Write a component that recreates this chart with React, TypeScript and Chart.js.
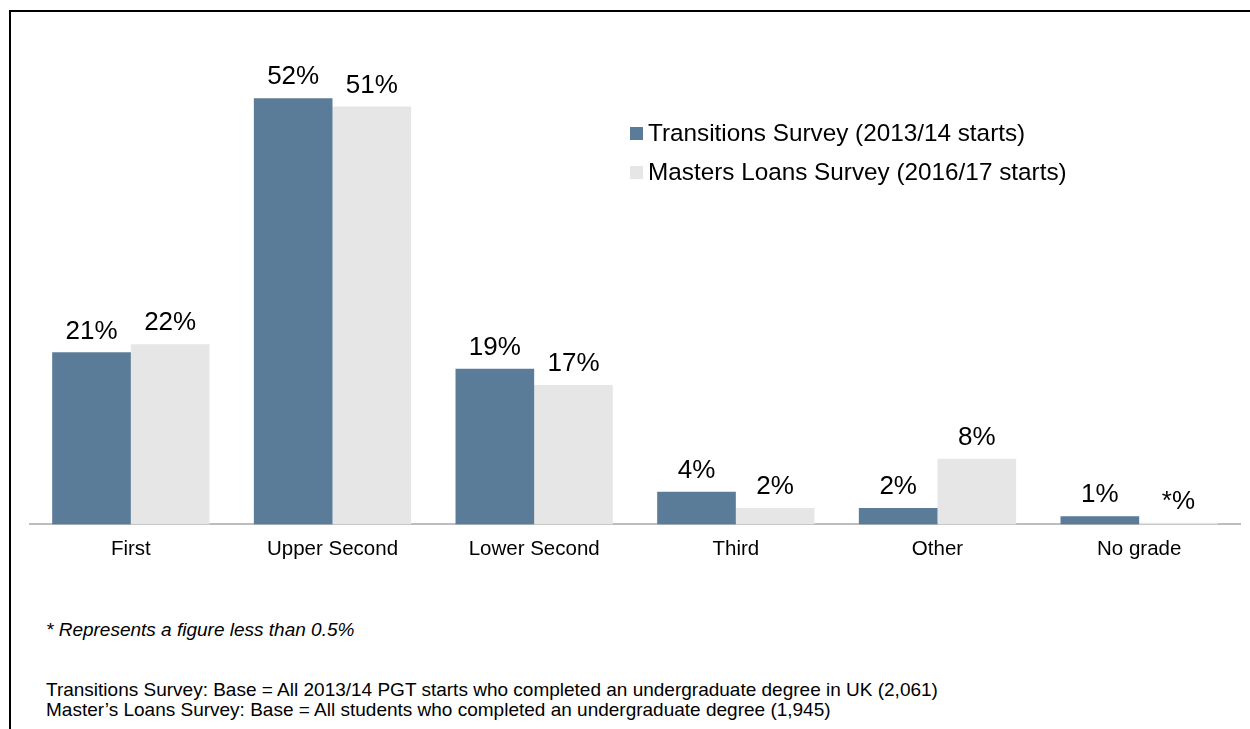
import React, { useEffect, useRef } from "react";
import { Chart, registerables } from "chart.js";

Chart.register(...registerables);

const categories = ["First", "Upper Second", "Lower Second", "Third", "Other", "No grade"];
const transitionsValues = [21, 52, 19, 4, 2, 1];
const mastersValues = [22, 51, 17, 2, 8, 0.2];
const transitionsLabels = ["21%", "52%", "19%", "4%", "2%", "1%"];
const mastersLabels = ["22%", "51%", "17%", "2%", "8%", "*%"];
const seriesNames = ["Transitions Survey (2013/14 starts)", "Masters Loans Survey (2016/17 starts)"];
const seriesColors = ["#5b7c98", "#e6e6e6"];

const FONT = "'Liberation Sans', Arial, sans-serif";

const valueLabelPlugin = {
  id: "valueLabels",
  afterDatasetsDraw(chart: any) {
    const ctx = chart.ctx;
    const labelSets = [transitionsLabels, mastersLabels];
    ctx.save();
    ctx.font = `26px ${FONT}`;
    ctx.fillStyle = "#000";
    ctx.textAlign = "center";
    ctx.textBaseline = "middle";
    chart.data.datasets.forEach((_: any, di: number) => {
      const meta = chart.getDatasetMeta(di);
      meta.data.forEach((el: any, i: number) => {
        ctx.fillText(labelSets[di][i], el.x, el.y - 21);
      });
    });
    ctx.restore();
  },
};

function App() {
  const ref = useRef<HTMLCanvasElement>(null);
  useEffect(() => {
    if (!ref.current) return;
    const chart = new Chart(ref.current, {
      type: "bar",
      data: {
        labels: categories,
        datasets: [
          { label: seriesNames[0], data: transitionsValues, backgroundColor: seriesColors[0], categoryPercentage: 0.78, barPercentage: 1 },
          { label: seriesNames[1], data: mastersValues, backgroundColor: seriesColors[1], categoryPercentage: 0.78, barPercentage: 1 },
        ],
      },
      options: {
        animation: false,
        responsive: false,
        maintainAspectRatio: false,
        layout: { padding: { left: 30, right: 10, top: 0, bottom: 25 } },
        plugins: { legend: { display: false }, tooltip: { enabled: false }, title: { display: false } },
        scales: {
          x: {
            grid: { display: false, drawTicks: false },
            border: { display: true, color: "#bdbdbd", width: 2 },
            ticks: { color: "#000", font: { family: FONT, size: 20.5 }, padding: 13 },
          },
          y: { display: false, min: 0, max: 64 },
        },
      },
      plugins: [valueLabelPlugin],
    });
    return () => chart.destroy();
  }, []);

  const legendRow = (i: number, top: number) => (
    <div style={{ position: "absolute", left: 630, top, height: 28, display: "flex", alignItems: "center" }}>
      <div style={{ width: 13, height: 13, background: seriesColors[i], marginRight: 5 }} />
      <div style={{ fontSize: 24.3, lineHeight: "28px", whiteSpace: "nowrap" }}>{seriesNames[i]}</div>
    </div>
  );

  return (
    <div style={{ position: "absolute", left: 0, top: 0, width: 1250, height: 729, overflow: "hidden", fontFamily: FONT, color: "#000", background: "#fff" }}>
      <div style={{ position: "absolute", left: 9, top: 10, width: 1300, height: 800, borderTop: "2px solid #000", borderLeft: "2px solid #000" }} />
      <canvas ref={ref} width={1250} height={600} style={{ position: "absolute", left: 0, top: 0, width: 1250, height: 600 }} />
      {legendRow(0, 119)}
      {legendRow(1, 158)}
      <div style={{ position: "absolute", left: 46, top: 619, fontSize: 19, lineHeight: "22px", fontStyle: "italic", whiteSpace: "nowrap" }}>
        * Represents a figure less than 0.5%
      </div>
      <div style={{ position: "absolute", left: 46, top: 680, fontSize: 19, lineHeight: "20px", whiteSpace: "nowrap" }}>
        <div>Transitions Survey: Base = All 2013/14 PGT starts who completed an undergraduate degree in UK (2,061)</div>
        <div>Master’s Loans Survey: Base = All students who completed an undergraduate degree (1,945)</div>
      </div>
    </div>
  );
}

export default App;
